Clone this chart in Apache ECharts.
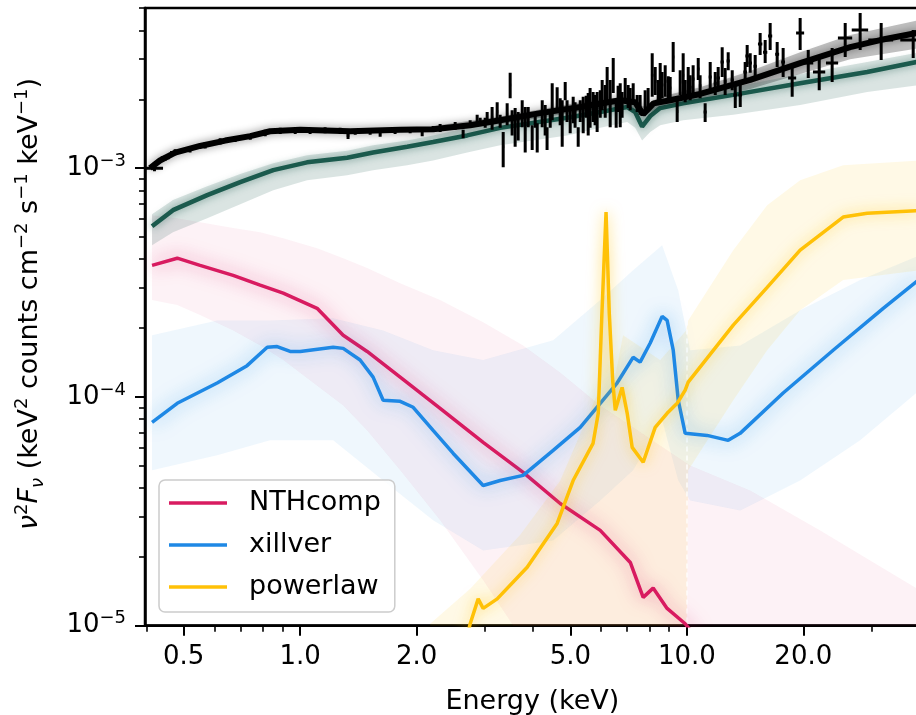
<!DOCTYPE html>
<html>
<head>
<meta charset="utf-8">
<script src="https://cdn.jsdelivr.net/npm/echarts@6/dist/echarts.min.js"></script>
<style>
  html, body { margin: 0; padding: 0; background: #fff; }
  #chart { width: 916px; height: 715px; }
</style>
</head>
<body>
<div id="chart"></div>
<script>
// axis ticks (keV and flux)
const xTickLabels = [0.5, 1.0, 2.0, 5.0, 10.0, 20.0];
const xMinorTicks = [0.4, 0.6, 0.7, 0.8, 0.9, 3, 4, 6, 7, 8, 9, 30, 40];
const yTickExp = [-5, -4, -3];
const yMinorTicks = [2e-5, 3e-5, 4e-5, 5e-5, 6e-5, 7e-5, 8e-5, 9e-5,
  2e-4, 3e-4, 4e-4, 5e-4, 6e-4, 7e-4, 8e-4, 9e-4, 2e-3, 3e-3, 4e-3, 5e-3];

// total model (black)
const modelE = [0.409, 0.434, 0.475, 0.551, 0.640, 0.743, 0.836, 1.0, 1.347, 1.814, 2.207, 2.752, 3.29,
  4.175, 5.30, 6.72, 7.35, 7.71, 8.20, 9.05, 10.82, 14.58, 19.63, 26.44, 31.62, 40.0];
const modelF = [1.00e-3, 1.08e-3, 1.17e-3, 1.25e-3, 1.32e-3, 1.38e-3, 1.45e-3, 1.47e-3, 1.45e-3, 1.47e-3,
  1.48e-3, 1.54e-3, 1.62e-3, 1.74e-3, 1.85e-3, 1.98e-3, 1.94e-3, 1.72e-3, 1.92e-3, 1.98e-3, 2.11e-3,
  2.43e-3, 2.88e-3, 3.38e-3, 3.63e-3, 3.92e-3];
const modelBandE = [2.207, 3.29, 5.30, 7.01, 7.71, 8.53, 10.82, 14.58, 19.63, 26.44, 40];
const modelBandHi = [1.53e-3, 1.68e-3, 1.94e-3, 2.05e-3, 1.86e-3, 2.05e-3, 2.26e-3, 2.66e-3, 3.21e-3,
  3.82e-3, 4.44e-3];
const modelBandLo = [1.44e-3, 1.56e-3, 1.77e-3, 1.89e-3, 1.68e-3, 1.86e-3, 1.98e-3, 2.22e-3, 2.58e-3,
  2.99e-3, 3.35e-3];

// unfolded total (dark green)
const totalE = [0.414, 0.469, 0.575, 0.700, 0.852, 1.042, 1.323, 1.544, 1.891, 2.207, 2.704, 3.29, 4.90,
  5.97, 7.01, 7.35, 7.66, 8.04, 8.53, 9.78, 13.18, 19.63, 29.26, 40.0];
const totalF = [5.57e-4, 6.55e-4, 7.62e-4, 8.68e-4, 9.80e-4, 1.06e-3, 1.11e-3, 1.17e-3, 1.24e-3, 1.30e-3,
  1.39e-3, 1.50e-3, 1.66e-3, 1.76e-3, 1.85e-3, 1.76e-3, 1.52e-3, 1.69e-3, 1.83e-3, 1.92e-3, 2.09e-3,
  2.35e-3, 2.63e-3, 2.93e-3];
const totalHi = [6.29e-4, 7.25e-4, 8.34e-4, 9.42e-4, 1.05e-3, 1.14e-3, 1.19e-3, 1.26e-3, 1.32e-3, 1.39e-3,
  1.50e-3, 1.61e-3, 1.77e-3, 1.89e-3, 1.98e-3, 1.89e-3, 1.67e-3, 1.81e-3, 1.96e-3, 2.07e-3, 2.26e-3,
  2.58e-3, 2.91e-3, 3.21e-3];
const totalLo = [4.60e-4, 5.25e-4, 6.04e-4, 6.96e-4, 8.01e-4, 8.86e-4, 9.32e-4, 9.80e-4, 1.03e-3, 1.08e-3,
  1.17e-3, 1.26e-3, 1.39e-3, 1.50e-3, 1.59e-3, 1.50e-3, 1.32e-3, 1.44e-3, 1.54e-3, 1.62e-3, 1.71e-3,
  1.89e-3, 2.15e-3, 2.31e-3];

// NTHcomp
const nthE = [0.414, 0.481, 0.551, 0.671, 0.788, 0.904, 1.106, 1.292, 1.490, 1.814, 2.301, 2.973, 3.773,
  4.703, 5.97, 7.14, 7.71, 8.18, 8.89, 9.90, 10.5];
const nthF = [3.76e-4, 4.04e-4, 3.76e-4, 3.40e-4, 3.08e-4, 2.84e-4, 2.44e-4, 1.86e-4, 1.58e-4, 1.22e-4,
  8.92e-5, 6.33e-5, 4.68e-5, 3.42e-5, 2.61e-5, 1.89e-5, 1.33e-5, 1.46e-5, 1.19e-5, 1.02e-5, 9.0e-6];
const nthBandE = [0.414, 0.481, 0.551, 0.671, 0.788, 0.904, 1.106, 1.292, 1.490, 1.814, 2.301, 2.973,
  3.773, 4.703, 5.97, 7.14, 8.53, 10.2, 14.58, 22.12, 40];
const nthBandHi = [6.22e-4, 6.04e-4, 5.80e-4, 5.47e-4, 5.25e-4, 4.94e-4, 4.47e-4, 4.04e-4, 3.66e-4, 3.14e-4,
  2.65e-4, 2.12e-4, 1.68e-4, 1.28e-4, 9.18e-5, 7.52e-5, 6.14e-5, 5.02e-5, 3.90e-5, 2.61e-5, 1.43e-5];
const nthBandLo = [2.65e-4, 2.52e-4, 2.28e-4, 1.95e-4, 1.68e-4, 1.45e-4, 1.12e-4, 9.18e-5, 7.14e-5, 4.78e-5,
  2.89e-5, 1.58e-5, 8.6e-6, 5e-6, 5e-6, 5e-6, 5e-6, 5e-6, 5e-6, 5e-6, 5e-6];

// xillver
const xilE = [0.414, 0.481, 0.610, 0.729, 0.822, 0.872, 0.942, 1.0, 1.217, 1.292, 1.429, 1.544, 1.639,
  1.814, 1.960, 2.207, 2.488, 2.973, 3.29, 3.773, 4.511, 5.30, 5.97, 6.60, 7.26, 7.57, 8.04, 8.63, 8.89,
  9.22, 9.50, 9.90, 11.28, 12.79, 13.73, 17.74, 23.89, 32.19, 40.0];
const xilF = [7.74e-5, 9.38e-5, 1.15e-4, 1.37e-4, 1.65e-4, 1.66e-4, 1.58e-4, 1.58e-4, 1.65e-4, 1.63e-4,
  1.45e-4, 1.22e-4, 9.67e-5, 9.57e-5, 9.01e-5, 7.14e-5, 5.66e-5, 4.10e-5, 4.31e-5, 4.54e-5, 5.84e-5,
  7.36e-5, 9.38e-5, 1.15e-4, 1.49e-4, 1.42e-4, 1.72e-4, 2.25e-4, 2.16e-4, 1.60e-4, 9.67e-5, 6.93e-5,
  6.79e-5, 6.46e-5, 6.93e-5, 1.04e-4, 1.60e-4, 2.44e-4, 3.28e-4];
const xilBandE = [0.414, 0.610, 0.836, 1.217, 1.639, 2.207, 2.973, 4.511, 5.97, 7.26, 8.63, 9.50, 10.2,
  13.74, 19.63, 28.06, 40];
const xilBandHi = [1.86e-4, 2.16e-4, 2.16e-4, 2.21e-4, 1.95e-4, 1.60e-4, 1.45e-4, 1.77e-4, 2.65e-4, 3.58e-4,
  4.60e-4, 2.92e-4, 1.60e-4, 1.68e-4, 2.39e-4, 3.24e-4, 4.16e-4];
const xilBandLo = [4.78e-5, 5.56e-5, 6.46e-5, 6.46e-5, 4.31e-5, 2.89e-5, 2.13e-5, 2.36e-5, 3.53e-5, 4.78e-5,
  7.91e-5, 4.31e-5, 3.53e-5, 3.19e-5, 4.31e-5, 6.46e-5, 1.07e-4];

// powerlaw
const plE = [2.672, 2.752, 2.886, 2.973, 3.232, 3.864, 4.619, 5.08, 5.72, 5.90, 6.03, 6.18, 6.30, 6.43,
  6.53, 6.80, 7.01, 7.22, 7.71, 8.28, 8.89, 9.44, 9.90, 10.08, 13.18, 16.13, 19.63, 25.36, 29.26, 40.0];
const plF = [8.3e-6, 1.02e-5, 1.31e-5, 1.19e-5, 1.31e-5, 1.80e-5, 2.80e-5, 4.31e-5, 6.27e-5, 8.48e-5,
  2.32e-4, 6.42e-4, 2.32e-4, 1.18e-4, 8.74e-5, 1.10e-4, 8.48e-5, 6.02e-5, 5.18e-5, 7.36e-5, 8.48e-5,
  9.38e-5, 1.07e-4, 1.16e-4, 2.06e-4, 3.01e-4, 4.38e-4, 6.11e-4, 6.35e-4, 6.52e-4];
const plBandE = [2.169, 2.752, 3.708, 4.703, 5.90, 6.18, 6.49, 6.84, 8.53, 9.96, 10.08, 13.18, 16.13,
  19.63, 25.36, 40];
const plBandHi = [1.02e-5, 1.45e-5, 2.50e-5, 4.30e-5, 1.05e-4, 6.89e-4, 1.18e-4, 1.86e-4, 1.45e-4, 1.95e-4,
  2.16e-4, 4.38e-4, 6.89e-4, 8.86e-4, 1.03e-3, 1.08e-3];
const plBandLo = [5e-6, 5e-6, 5e-6, 5e-6, 5e-6, 5e-6, 5e-6, 5e-6, 5e-6, 5e-6,
  4.78e-5, 9.67e-5, 1.60e-4, 2.39e-4, 3.24e-4, 3.58e-4];

// observed spectrum with error bars
const dataE = [0.42, 0.448, 0.475, 0.519, 0.568, 0.621, 0.679, 0.743, 0.812, 0.888, 0.971, 1.061, 1.160,
  1.269, 1.33, 1.388, 1.517, 1.61, 1.760, 1.925, 2.068, 2.207, 2.301, 2.517, 2.639, 2.752, 2.869, 3.009,
  3.136, 3.232, 3.350, 3.430, 3.492, 3.597, 3.662, 3.751, 3.819, 3.888, 3.981, 4.102, 4.226, 4.350, 4.485,
  4.619, 4.760, 4.846, 4.992, 5.082, 5.236, 5.394, 5.557, 5.723, 5.861, 6.039, 6.221, 6.334, 6.450, 6.564,
  6.724, 6.926, 7.135, 7.264, 7.439, 8.135, 8.282, 8.531, 8.789, 9.054, 9.217, 9.439, 9.782, 10.08, 10.38,
  10.70, 11.15, 11.49, 12.05, 12.34, 12.79, 13.34, 13.74, 14.32, 14.58, 15.47, 15.94, 16.42, 17.12, 17.74,
  18.72, 19.63, 20.60, 21.99, 23.75, 25.67, 28.06, 31.80, 38.48,
  2.921, 3.045, 3.29, 3.533, 4.053, 4.301, 4.432, 4.703, 4.90, 5.14, 5.30, 5.49, 5.62, 5.79, 5.97, 6.15,
  6.64, 6.80, 7.05, 7.57, 7.80, 7.94, 8.43, 8.63, 8.95, 9.61, 9.90, 10.20, 10.82, 11.84, 12.56, 13.10,
  14.15, 15.02];
const dataF = [1.00e-3, 1.11e-3, 1.17e-3, 1.21e-3, 1.26e-3, 1.31e-3, 1.34e-3, 1.37e-3, 1.42e-3, 1.45e-3,
  1.45e-3, 1.45e-3, 1.47e-3, 1.45e-3, 1.39e-3, 1.44e-3, 1.44e-3, 1.41e-3, 1.45e-3, 1.47e-3, 1.42e-3,
  1.48e-3, 1.50e-3, 1.53e-3, 1.41e-3, 1.56e-3, 1.66e-3, 1.57e-3,
  1.66e-3, 1.77e-3, 1.24e-3, 1.72e-3, 2.31e-3, 1.51e-3, 1.53e-3, 1.74e-3, 1.47e-3, 1.67e-3, 1.37e-3,
  1.37e-3, 1.74e-3, 1.35e-3, 1.96e-3, 1.98e-3, 1.57e-3, 2.17e-3, 1.62e-3, 1.79e-3, 1.37e-3, 1.71e-3,
  1.72e-3, 1.85e-3, 1.76e-3, 2.09e-3, 2.35e-3, 1.92e-3, 2.55e-3, 1.72e-3, 1.89e-3, 2.19e-3, 2.00e-3,
  2.17e-3, 1.92e-3, 2.55e-3, 2.40e-3, 2.35e-3, 2.40e-3, 2.24e-3, 3.06e-3, 1.77e-3, 2.55e-3, 2.38e-3,
  2.45e-3, 2.71e-3, 1.76e-3, 2.50e-3, 2.48e-3, 2.91e-3, 2.94e-3, 2.09e-3, 2.09e-3, 3.09e-3, 2.88e-3,
  3.49e-3, 3.21e-3, 3.78e-3, 3.15e-3, 2.91e-3, 2.48e-3, 3.90e-3, 2.88e-3, 2.63e-3, 2.88e-3, 3.71e-3,
  4.02e-3, 3.63e-3, 3.63e-3,
  1.59e-3, 1.66e-3, 1.61e-3, 1.59e-3, 1.62e-3, 1.62e-3, 1.64e-3, 1.77e-3, 1.77e-3, 1.71e-3, 1.77e-3,
  1.85e-3, 1.83e-3, 1.79e-3, 1.91e-3, 1.96e-3, 2.00e-3, 1.89e-3, 2.07e-3, 1.89e-3, 1.96e-3, 2.00e-3,
  2.19e-3, 2.31e-3, 2.24e-3, 2.38e-3, 2.17e-3, 2.26e-3, 2.29e-3, 2.35e-3, 2.40e-3, 2.43e-3, 2.63e-3,
  2.79e-3];
const dataHi = [1.03e-3, 1.14e-3, 1.21e-3, 1.25e-3, 1.30e-3, 1.35e-3, 1.38e-3, 1.41e-3, 1.47e-3, 1.50e-3,
  1.50e-3, 1.50e-3, 1.51e-3, 1.50e-3, 1.44e-3, 1.48e-3, 1.48e-3, 1.45e-3, 1.50e-3, 1.51e-3, 1.47e-3,
  1.53e-3, 1.56e-3, 1.59e-3, 1.47e-3, 1.62e-3, 1.71e-3, 1.66e-3,
  1.85e-3, 1.94e-3, 1.44e-3, 1.92e-3, 2.61e-3, 1.83e-3, 1.76e-3, 1.98e-3, 1.85e-3, 1.85e-3, 1.54e-3,
  1.57e-3, 1.98e-3, 1.51e-3, 2.35e-3, 2.26e-3, 1.98e-3, 2.38e-3, 1.85e-3, 2.05e-3, 1.51e-3, 2.05e-3,
  2.13e-3, 2.15e-3, 2.15e-3, 2.43e-3, 2.77e-3, 2.43e-3, 3.03e-3, 1.98e-3, 2.35e-3, 2.48e-3, 2.24e-3,
  2.35e-3, 2.09e-3, 3.18e-3, 2.77e-3, 2.88e-3, 2.82e-3, 2.50e-3, 3.56e-3, 1.98e-3, 3.18e-3, 2.77e-3,
  2.82e-3, 3.03e-3, 1.92e-3, 2.91e-3, 2.77e-3, 3.38e-3, 3.21e-3, 2.35e-3, 2.35e-3, 3.45e-3, 3.18e-3,
  3.90e-3, 3.63e-3, 4.31e-3, 3.56e-3, 3.35e-3, 2.82e-3, 4.53e-3, 3.28e-3, 3.03e-3, 3.35e-3, 4.31e-3,
  4.76e-3, 4.31e-3, 4.02e-3,
  1.66e-3, 1.76e-3, 1.71e-3, 1.79e-3, 1.76e-3, 1.89e-3, 1.79e-3, 2.02e-3, 1.98e-3, 1.94e-3, 1.98e-3,
  2.07e-3, 2.24e-3, 2.09e-3, 2.19e-3, 2.31e-3, 2.29e-3, 2.15e-3, 2.31e-3, 2.09e-3, 2.19e-3, 2.24e-3,
  2.43e-3, 2.63e-3, 2.52e-3, 2.68e-3, 2.43e-3, 2.55e-3, 2.55e-3, 2.63e-3, 2.74e-3, 2.68e-3, 2.91e-3,
  3.12e-3];
const dataLo = [9.70e-4, 1.08e-3, 1.14e-3, 1.17e-3, 1.22e-3, 1.27e-3, 1.30e-3, 1.33e-3, 1.38e-3, 1.41e-3,
  1.41e-3, 1.41e-3, 1.42e-3, 1.41e-3, 1.34e-3, 1.40e-3, 1.40e-3, 1.37e-3, 1.41e-3, 1.42e-3, 1.38e-3,
  1.44e-3, 1.44e-3, 1.47e-3, 1.35e-3, 1.50e-3, 1.59e-3, 1.50e-3,
  1.47e-3, 1.62e-3, 1.01e-3, 1.54e-3, 2.02e-3, 1.24e-3, 1.32e-3, 1.51e-3, 1.17e-3, 1.51e-3, 1.20e-3,
  1.17e-3, 1.51e-3, 1.20e-3, 1.62e-3, 1.74e-3, 1.24e-3, 1.98e-3, 1.42e-3, 1.57e-3, 1.24e-3, 1.42e-3,
  1.39e-3, 1.59e-3, 1.44e-3, 1.79e-3, 1.98e-3, 1.51e-3, 2.13e-3, 1.50e-3, 1.51e-3, 1.92e-3, 1.79e-3,
  1.98e-3, 1.76e-3, 2.05e-3, 2.09e-3, 1.92e-3, 2.05e-3, 1.98e-3, 2.63e-3, 1.59e-3, 2.05e-3, 2.05e-3,
  2.13e-3, 2.43e-3, 1.59e-3, 2.13e-3, 2.19e-3, 2.50e-3, 2.68e-3, 1.83e-3, 1.85e-3, 2.77e-3, 2.61e-3,
  3.12e-3, 2.88e-3, 3.28e-3, 2.77e-3, 2.50e-3, 2.05e-3, 3.28e-3, 2.48e-3, 2.19e-3, 2.38e-3, 3.06e-3,
  3.28e-3, 2.97e-3, 3.03e-3,
  1.53e-3, 1.56e-3, 1.50e-3, 1.39e-3, 1.50e-3, 1.39e-3, 1.50e-3, 1.54e-3, 1.59e-3, 1.50e-3, 1.59e-3,
  1.66e-3, 1.50e-3, 1.54e-3, 1.66e-3, 1.66e-3, 1.76e-3, 1.66e-3, 1.83e-3, 1.71e-3, 1.76e-3, 1.79e-3,
  1.98e-3, 2.02e-3, 1.98e-3, 2.09e-3, 1.94e-3, 1.98e-3, 2.02e-3, 2.09e-3, 2.09e-3, 2.19e-3, 2.38e-3,
  2.48e-3];
const dataEErr = [0.022, 0.012, 0.014, 0.008, 0.008, 0.008, 0.008, 0.008, 0.01, 0.01, 0.01, 0.01, 0.01,
  0.01, 0.01, 0.01, 0.01, 0.01, 0.01, 0.01, 0.01, 0.01, 0.01, 0.01, 0.01, 0.01, 0.01, 0.01,
  0.02, 0.02, 0.02, 0.02, 0.02, 0.02, 0.02, 0.02, 0.02, 0.02, 0.02, 0.02, 0.02, 0.02, 0.02, 0.02, 0.02,
  0.02, 0.02, 0.02, 0.02, 0.02, 0.02, 0.02, 0.02, 0.02, 0.02, 0.02, 0.02, 0.02, 0.02, 0.02, 0.02, 0.02,
  0.02, 0.06, 0.06, 0.06, 0.06, 0.06, 0.06, 0.06, 0.06, 0.08, 0.08, 0.08, 0.1, 0.1, 0.12, 0.12, 0.12,
  0.15, 0.15, 0.15, 0.15, 0.2, 0.2, 0.2, 0.2, 0.2, 0.45, 0.47, 0.62, 0.80, 0.86, 1.09, 1.37, 2.35, 2.85,
  0.01, 0.01, 0.02, 0.02, 0.02, 0.02, 0.02, 0.02, 0.02, 0.02, 0.02, 0.02, 0.02, 0.02, 0.02, 0.02,
  0.02, 0.02, 0.02, 0.04, 0.04, 0.04, 0.06, 0.06, 0.06, 0.06, 0.06, 0.08, 0.08, 0.1, 0.1, 0.12,
  0.15, 0.15];

const FONT = 'DejaVu Sans';
const lg = Math.log10;
const pts = (xs, ys) => xs.map((x, i) => [lg(x), lg(ys[i])]);

// shaded spread of the posterior samples, drawn as one polygon per component
function band(id, xs, lo, hi, color, opacity) {
  return {
    type: 'custom', name: id, silent: true, clip: true, z: 1,
    data: xs.map((x, i) => [lg(x), lg(lo[i]), lg(hi[i])]),
    encode: { x: 0, y: [1, 2] },
    renderItem: function (params, api) {
      if (params.dataIndex !== 0) return null;
      const top = xs.map((x, i) => api.coord([lg(x), lg(hi[i])]));
      const bot = xs.map((x, i) => api.coord([lg(x), lg(lo[i])])).reverse();
      return { type: 'polygon', shape: { points: top.concat(bot) },
        style: { fill: color, opacity: opacity } };
    }
  };
}

function line(name, xs, ys, color, width, glow, blur) {
  return { type: 'line', name: name, data: pts(xs, ys), symbol: 'none', color: color, z: 3,
    lineStyle: { color: color, width: width, shadowBlur: glow ? (blur || 8) : 0, shadowColor: glow || 'transparent' } };
}

const chart = echarts.init(document.getElementById('chart'));

const minorX = xMinorTicks.map(lg);
const minorY = yMinorTicks.map(lg);

const option = {
  animation: false,
  grid: { left: 145, right: -3.7, top: 8, bottom: 89.3, show: true, borderColor: '#000', borderWidth: 2.5,
    containLabel: false, outerBoundsMode: 'none' },
  xAxis: [
    { type: 'value', min: lg(0.397), max: lg(40),
      name: 'Energy (keV)', nameLocation: 'middle', nameGap: 63, nameMoveOverlap: false,
      nameTextStyle: { fontFamily: FONT, fontSize: 27, color: '#000' },
      axisLine: { onZero: false, lineStyle: { color: '#000', width: 2.5 } },
      axisTick: { customValues: xTickLabels.map(lg), length: 10, lineStyle: { color: '#000', width: 2 } },
      axisLabel: { customValues: xTickLabels.map(lg), margin: 19, fontFamily: FONT, fontSize: 26, color: '#000',
        formatter: v => xTickLabels.find(t => Math.abs(lg(t) - v) < 1e-6).toFixed(1) },
      splitLine: { show: false } },
    { type: 'value', min: lg(0.397), max: lg(40), position: 'bottom',
      axisLine: { show: false, onZero: false },
      axisTick: { customValues: minorX, length: 6, lineStyle: { color: '#000', width: 1.6 } },
      axisLabel: { show: false }, splitLine: { show: false } }
  ],
  yAxis: [
    { type: 'value', min: -5, max: -2.3,
      name: '   {i|ν}{sup|2}{i|F}{sub|ν} (keV{sup|2} counts cm{sup|−2} s{sup|−1} keV{sup|−1})',
      nameLocation: 'middle', nameGap: 98, nameMoveOverlap: false,
      nameTextStyle: { fontFamily: FONT, fontSize: 27, color: '#000', lineHeight: 34,
        rich: {
          i: { fontFamily: FONT, fontSize: 27, fontStyle: 'italic', color: '#000', lineHeight: 34 },
          sup: { fontFamily: FONT, fontSize: 18, color: '#000', lineHeight: 20, verticalAlign: 'top' },
          sub: { fontFamily: FONT, fontSize: 18, fontStyle: 'italic', color: '#000', lineHeight: 20, verticalAlign: 'bottom' }
        } },
      axisLine: { onZero: false, lineStyle: { color: '#000', width: 2.5 } },
      axisTick: { customValues: yTickExp, length: 10, lineStyle: { color: '#000', width: 2 } },
      axisLabel: { customValues: yTickExp, margin: 19, color: '#000',
        formatter: v => '{b|10}{s|−' + Math.round(-v) + '}',
        rich: {
          b: { fontFamily: FONT, fontSize: 26, color: '#000', lineHeight: 32 },
          s: { fontFamily: FONT, fontSize: 18, color: '#000', lineHeight: 20, verticalAlign: 'top' }
        } },
      splitLine: { show: false } },
    { type: 'value', min: -5, max: -2.3, position: 'left',
      axisLine: { show: false, onZero: false },
      axisTick: { customValues: minorY, length: 6, lineStyle: { color: '#000', width: 1.6 } },
      axisLabel: { show: false }, splitLine: { show: false } }
  ],
  legend: {
    data: ['NTHcomp', 'xillver', 'powerlaw'], orient: 'vertical', left: 159, top: 480, z: 10,
    padding: [8, 14, 10, 10], itemGap: 12, itemWidth: 58, itemHeight: 3.5, icon: 'rect',
    backgroundColor: 'rgba(255,255,255,0.8)', borderColor: '#cccccc', borderWidth: 1.5, borderRadius: 6,
    textStyle: { fontFamily: FONT, fontSize: 27, color: '#000', lineHeight: 30, padding: [0, 0, 0, 17] }
  },
  series: [
    band('nthBand', nthBandE, nthBandLo, nthBandHi, '#d81b60', 0.06),
    band('xilBand', xilBandE, xilBandLo, xilBandHi, '#1e88e5', 0.07),
    band('plBand', plBandE, plBandLo, plBandHi, '#ffc107', 0.10),
    band('totalBand', totalE, totalLo, totalHi, '#1b5a4d', 0.16),
    band('modelBand', modelBandE, modelBandLo, modelBandHi, '#000000', 0.25),
    Object.assign(line('NTHcomp', nthE, nthF, '#d81b60', 3.5, 'rgba(216,27,96,0.6)', 18), {
      markLine: { silent: true, symbol: 'none', z: 2, label: { show: false },
        lineStyle: { color: '#ffffff', type: [5, 4], width: 1.5, opacity: 0.9 },
        data: [[{ coord: [1, lg(7e-4)] }, { coord: [1, -5] }]] }
    }),
    line('xillver', xilE, xilF, '#1e88e5', 3.5, 'rgba(30,136,229,0.6)', 18),
    line('powerlaw', plE, plF, '#ffc107', 3.5, 'rgba(255,193,7,0.6)', 14),
    line('total', totalE, totalF, '#1b5a4d', 4.5, 'rgba(27,90,77,0.6)'),
    line('model', modelE, modelF, '#000000', 6, 'rgba(0,0,0,0.45)'),
    {
      type: 'custom', name: 'data', clip: true, z: 4,
      data: dataE.map((e, i) => [lg(e), lg(dataF[i]), lg(dataLo[i]), lg(dataHi[i]),
        lg(e - dataEErr[i]), lg(e + dataEErr[i])]),
      encode: { x: [0, 4, 5], y: [1, 2, 3] },
      renderItem: function (params, api) {
        const lo = api.coord([api.value(0), api.value(2)]);
        const hi = api.coord([api.value(0), api.value(3)]);
        const l = api.coord([api.value(4), api.value(1)]);
        const r = api.coord([api.value(5), api.value(1)]);
        const st = { stroke: '#000', lineWidth: 3 };
        return { type: 'group', children: [
          { type: 'line', shape: { x1: lo[0], y1: lo[1], x2: hi[0], y2: hi[1] }, style: st },
          { type: 'line', shape: { x1: l[0], y1: l[1], x2: r[0], y2: r[1] }, style: st }
        ] };
      }
    }
  ]
};

chart.setOption(option);
</script>
</body>
</html>
